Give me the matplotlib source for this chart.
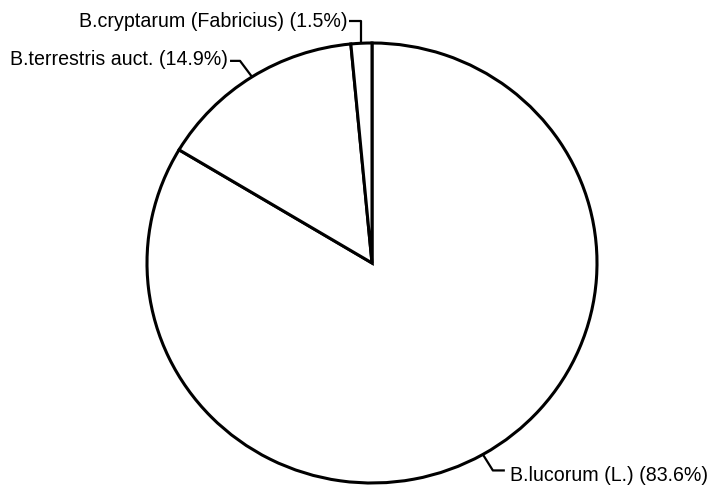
import numpy as np
import matplotlib
matplotlib.use("Agg")
import matplotlib.pyplot as plt

species = ["B.lucorum (L.)", "B.terrestris auct.", "B.cryptarum (Fabricius)"]
shares = [83.6, 14.9, 1.5]

plt.rcParams['font.family'] = ['Liberation Sans', 'DejaVu Sans']

W, H = 708, 487
fig = plt.figure(figsize=(W / 100, H / 100), dpi=100)
ax = fig.add_axes([0, 0, 1, 1])

cx, cy = 372, 263          # pixel centre of pie
rx, ry = 225, 220          # pixel radii

wedges, _ = ax.pie(shares, startangle=90, counterclock=False, radius=1,
                   wedgeprops=dict(facecolor='white', edgecolor='black', linewidth=2.2))
ax.set_aspect('auto')
ax.set_xlim(-cx / rx, (W - cx) / rx)
ax.set_ylim(-(H - cy) / ry, cy / ry)
ax.axis('off')

def px(dx, dy):
    return dx / rx, -dy / ry

# leader geometry (pixel offsets from the arc point): knees, text baseline anchor
leaders = {
    0: ([(10, 16), (22, 16)], (27, 27), 'left'),
    1: ([(-12, -16), (-22, -16)], (-24, -12), 'right'),
    2: ([(0, -22), (-12, -22)], (-14, -16), 'right'),
}

for i, w in enumerate(wedges):
    th = np.deg2rad((w.theta1 + w.theta2) / 2)
    x0, y0 = np.cos(th), np.sin(th)
    knees, tpos, ha = leaders[i]
    xs = [x0] + [x0 + px(*k)[0] for k in knees]
    ys = [y0] + [y0 + px(*k)[1] for k in knees]
    ax.plot(xs, ys, color='black', lw=1.6, solid_capstyle='butt')
    tx, ty = x0 + px(*tpos)[0], y0 + px(*tpos)[1]
    ax.text(tx, ty, f"{species[i]} ({shares[i]}%)", ha=ha, va='baseline',
            fontsize=14.1, color='black')

fig.savefig("out.png", dpi=100)
